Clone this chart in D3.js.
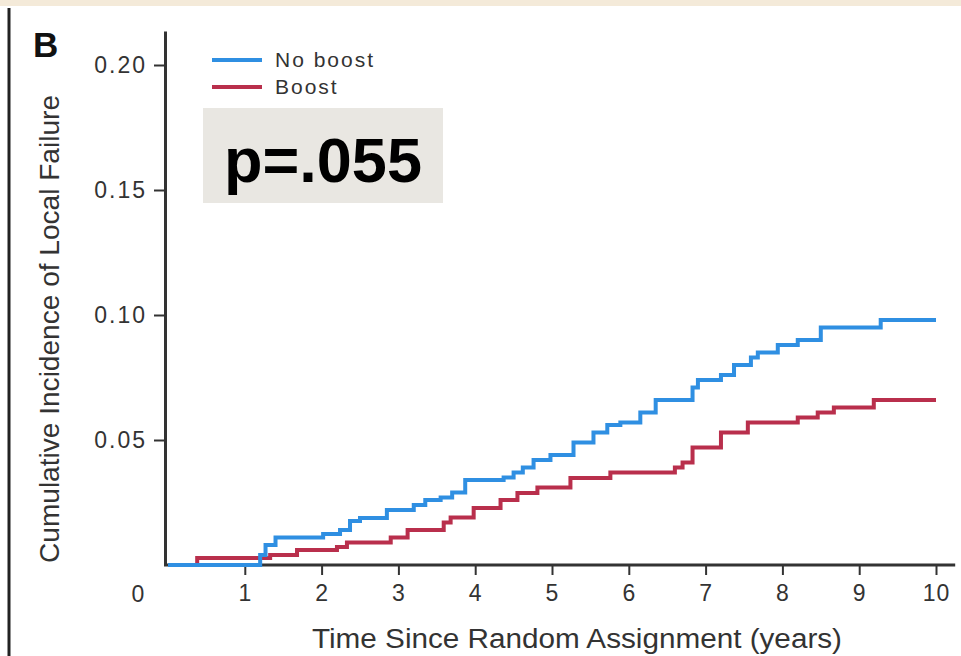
<!DOCTYPE html>
<html>
<head>
<meta charset="utf-8">
<script src="https://cdn.jsdelivr.net/npm/d3@7"></script>
<style>
  body { margin: 0; background: #fff; }
  svg { display: block; }
</style>
</head>
<body>
<div id="chart"></div>
<script>
// step points (years, cumulative incidence)
const noBoostTime = [0, 1.2, 1.27, 1.4, 2.02, 2.24, 2.37, 2.5, 2.85, 3.2, 3.35, 3.55, 3.7, 3.87, 4.37, 4.5, 4.62, 4.76, 4.98, 5.28, 5.54, 5.72, 5.89, 6.15, 6.35, 6.83, 6.9, 7.2, 7.37, 7.59, 7.68, 7.94, 8.2, 8.5, 9.28, 10];
const noBoostValue = [0, 0.004, 0.008, 0.011, 0.0124, 0.014, 0.0176, 0.0188, 0.022, 0.024, 0.026, 0.027, 0.029, 0.034, 0.035, 0.037, 0.039, 0.042, 0.044, 0.049, 0.053, 0.056, 0.057, 0.061, 0.066, 0.071, 0.074, 0.076, 0.080, 0.083, 0.085, 0.088, 0.090, 0.095, 0.098, 0.098];
const boostTime = [0, 0.38, 1.25, 1.33, 1.68, 2.2, 2.33, 2.9, 3.12, 3.59, 3.68, 3.98, 4.33, 4.55, 4.81, 5.24, 5.76, 6.6, 6.7, 6.83, 7.2, 7.55, 8.2, 8.46, 8.67, 9.19, 10];
const boostValue = [0, 0.0028, 0.0028, 0.004, 0.006, 0.0072, 0.009, 0.011, 0.014, 0.017, 0.019, 0.0228, 0.026, 0.0288, 0.031, 0.0348, 0.037, 0.039, 0.041, 0.047, 0.053, 0.057, 0.059, 0.061, 0.063, 0.066, 0.066];

const seriesNames = ['No boost', 'Boost'];
const seriesColors = ['#2f8fe2', '#b92f4c'];
const xTicks = [1, 2, 3, 4, 5, 6, 7, 8, 9, 10];
const yTicks = [0.05, 0.10, 0.15, 0.20];

const W = 961, H = 656;
const FONT = '"Liberation Sans", Arial, sans-serif';

const svg = d3.select('#chart').append('svg')
    .attr('width', W).attr('height', H);

svg.append('rect').attr('width', W).attr('height', H).attr('fill', '#fff');
// beige strip on top and dark frame line on the left
svg.append('rect').attr('x', 0).attr('y', 0).attr('width', W).attr('height', 6).attr('fill', '#f4ead9');
svg.append('line').attr('x1', 9).attr('x2', 9).attr('y1', 8).attr('y2', H)
    .attr('stroke', '#222').attr('stroke-width', 3);

const x = d3.scaleLinear().domain([0, 10]).range([168, 936]);
const y = d3.scaleLinear().domain([0, 0.2136]).range([565, 31]);

// y axis
const gy = svg.append('g').attr('transform', 'translate(165,0)')
    .call(d3.axisLeft(y).tickValues(yTicks).tickFormat(d3.format('.2f')).tickSize(11).tickSizeOuter(0).tickPadding(7));
gy.select('.domain').attr('stroke', '#333').attr('stroke-width', 3);
gy.selectAll('.tick line').attr('stroke', '#333').attr('stroke-width', 2);
gy.selectAll('.tick text').attr('font-family', FONT).attr('font-size', 23)
    .attr('letter-spacing', 2).attr('fill', '#333');

// x axis
const gx = svg.append('g').attr('transform', 'translate(0,' + y(0) + ')')
    .call(d3.axisBottom(x).tickValues(xTicks).tickSize(10).tickSizeOuter(0).tickPadding(10));
gx.select('.domain').remove();
gx.append('line').attr('x1', x(0) - 4).attr('x2', x(10.25))
    .attr('stroke', '#333').attr('stroke-width', 3);
gx.selectAll('.tick line').attr('stroke', '#333').attr('stroke-width', 2);
gx.selectAll('.tick text').attr('font-family', FONT).attr('font-size', 23)
    .attr('letter-spacing', 1).attr('fill', '#333');

// origin label
svg.append('text').attr('x', x(0) - 30).attr('y', y(0) + 37)
    .attr('text-anchor', 'middle').attr('font-family', FONT).attr('font-size', 23)
    .attr('fill', '#333').text('0');

// axis titles
svg.append('text')
    .attr('x', (x(0) + x(10)) / 2 + 25).attr('y', 648)
    .attr('text-anchor', 'middle').attr('font-family', FONT).attr('font-size', 27)
    .attr('fill', '#333')
    .attr('textLength', 530).attr('lengthAdjust', 'spacingAndGlyphs')
    .text('Time Since Random Assignment (years)');

svg.append('text')
    .attr('transform', 'translate(59,' + 329 + ') rotate(-90)')
    .attr('text-anchor', 'middle').attr('font-family', FONT).attr('font-size', 28)
    .attr('fill', '#333')
    .attr('textLength', 468).attr('lengthAdjust', 'spacingAndGlyphs')
    .text('Cumulative Incidence of Local Failure');

// panel letter
svg.append('text').attr('x', 33).attr('y', 57)
    .attr('font-family', FONT).attr('font-size', 35).attr('font-weight', 'bold')
    .attr('fill', '#111').text('B');

// curves
const line = d3.line()
    .x(d => x(d[0]))
    .y(d => y(d[1]))
    .curve(d3.curveStepAfter);

const series = [
    d3.zip(noBoostTime, noBoostValue),
    d3.zip(boostTime, boostValue)
];

svg.append('g').selectAll('path')
    .data([series[1], series[0]])
    .enter().append('path')
        .attr('d', line)
        .attr('fill', 'none')
        .attr('stroke', (d, i) => i === 0 ? seriesColors[1] : seriesColors[0])
        .attr('stroke-width', 4);

// legend
const legend = svg.append('g').selectAll('g')
    .data(seriesNames)
    .enter().append('g')
        .attr('transform', (d, i) => 'translate(212,' + (60 + i * 27) + ')');
legend.append('line').attr('x1', 0).attr('x2', 50)
    .attr('stroke', (d, i) => seriesColors[i]).attr('stroke-width', 4);
legend.append('text').attr('x', 63).attr('y', 7)
    .attr('font-family', FONT).attr('font-size', 21).attr('letter-spacing', 2)
    .attr('fill', '#333').text(d => d);

// p-value box
svg.append('rect').attr('x', 203).attr('y', 108).attr('width', 240).attr('height', 95)
    .attr('fill', '#e9e7e2');
svg.append('text').attr('x', 323).attr('y', 182)
    .attr('text-anchor', 'middle').attr('font-family', FONT).attr('font-size', 63)
    .attr('font-weight', 'bold').attr('fill', '#000').text('p=.055');
</script>
</body>
</html>
